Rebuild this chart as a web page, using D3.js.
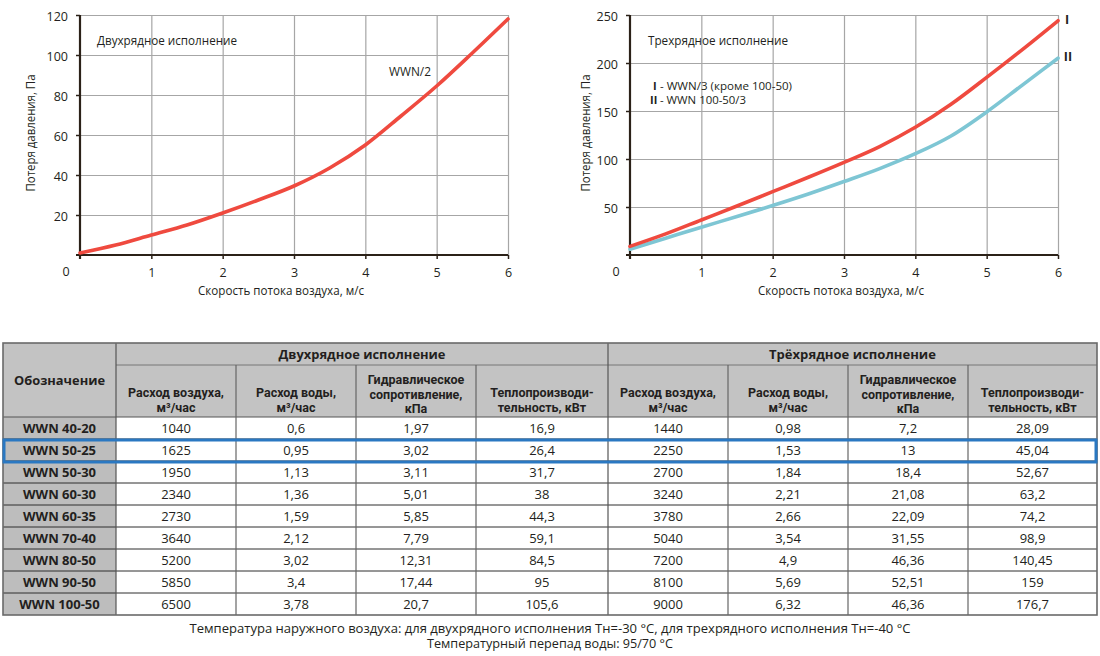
<!DOCTYPE html>
<html>
<head>
<meta charset="utf-8">
<script src="https://cdn.jsdelivr.net/npm/d3@7"></script>
<style>
  html, body { margin: 0; padding: 0; background: #fff; }
  svg { display: block; font-family: "Open Sans", "Noto Sans", sans-serif; }
</style>
</head>
<body>
<svg id="chart" width="1100" height="656"></svg>
<script>
// ---------- DATA ----------
const xTickValues = [1, 2, 3, 4, 5, 6];
const leftYTicks = [20, 40, 60, 80, 100, 120];
const rightYTicks = [50, 100, 150, 200, 250];

// Двухрядное исполнение, WWN/2
const wwn2Speed = [0, 0.5, 1, 1.5, 2, 2.5, 3, 3.5, 4, 4.5, 5, 5.5, 6];
const wwn2Loss  = [1, 5, 10, 15, 21, 27.5, 34.5, 43.5, 55, 69.5, 84.5, 101, 118];

// Трехрядное исполнение
const wwn3Speed = [0, 0.5, 1, 1.5, 2, 2.5, 3, 3.5, 4, 4.5, 5, 5.5, 6];
const wwn3LossI  = [9, 22, 36.5, 51, 66, 81, 96.5, 113, 133, 157, 185, 214, 244];
const wwn3LossII = [6, 17.5, 29, 40, 51.5, 63.5, 76.5, 90, 105.5, 124, 149, 177, 205];

// Table
const models = ["WWN 40-20","WWN 50-25","WWN 50-30","WWN 60-30","WWN 60-35","WWN 70-40","WWN 80-50","WWN 90-50","WWN 100-50"];
const air2   = ["1040","1625","1950","2340","2730","3640","5200","5850","6500"];
const water2 = ["0,6","0,95","1,13","1,36","1,59","2,12","3,02","3,4","3,78"];
const hyd2   = ["1,97","3,02","3,11","5,01","5,85","7,79","12,31","17,44","20,7"];
const heat2  = ["16,9","26,4","31,7","38","44,3","59,1","84,5","95","105,6"];
const air3   = ["1440","2250","2700","3240","3780","5040","7200","8100","9000"];
const water3 = ["0,98","1,53","1,84","2,21","2,66","3,54","4,9","5,69","6,32"];
const hyd3   = ["7,2","13","18,4","21,08","22,09","31,55","46,36","52,51","46,36"];
const heat3  = ["28,09","45,04","52,67","63,2","74,2","98,9","140,45","159","176,7"];
const highlightedModel = "WWN 50-25";

const colHeaders = [["Расход воздуха,","м³/час"],["Расход воды,","м³/час"],["Гидравлическое","сопротивление,","кПа"],["Теплопроизводи-","тельность, кВт"]];
const groupHeaders = ["Двухрядное исполнение","Трёхрядное исполнение"];
const footnotes = ["Температура наружного воздуха: для двухрядного исполнения Tн=-30 °C, для трехрядного исполнения Tн=-40 °C",
                   "Температурный перепад воды: 95/70 °C"];

// ---------- DRAW ----------
const svg = d3.select("#chart");
const RED = "#ef4a3f", BLUE = "#7ec6d4", GRID = "#a6a6a6", AXIS = "#2b2118", TXT = "#231f20";

function drawChart(opts) {
  const g = svg.append("g");
  const x = d3.scaleLinear().domain([0, 6]).range([opts.x0, opts.x1]);
  const y = d3.scaleLinear().domain([0, opts.ymax]).range([255, 15]);

  // vertical grid
  g.append("g").attr("transform", `translate(0,${y(0)})`)
    .call(d3.axisBottom(x).tickValues(xTickValues).tickSize(-(y(0) - y(opts.ymax))).tickFormat(""))
    .call(s => s.select(".domain").remove())
    .call(s => s.selectAll("line").attr("stroke", GRID).attr("stroke-width", 1.2));
  // horizontal grid
  g.append("g").attr("transform", `translate(${x(0)},0)`)
    .call(d3.axisLeft(y).tickValues(opts.yTicks).tickSize(-(x(6) - x(0))).tickFormat(""))
    .call(s => s.select(".domain").remove())
    .call(s => s.selectAll("line").attr("stroke", GRID).attr("stroke-width", 1.2));

  // y axis with labels
  g.append("g").attr("transform", `translate(${x(0)},0)`)
    .call(d3.axisLeft(y).tickValues(opts.yTicks).tickSize(4).tickPadding(8).tickFormat(d3.format("d")))
    .call(s => s.select(".domain").remove())
    .call(s => s.selectAll("line").attr("stroke", AXIS).attr("stroke-width", 1.5))
    .call(s => s.selectAll("text").attr("font-size", 12.5).attr("fill", TXT)
      .attr("font-family", "Open Sans, sans-serif").attr("dy", "0.45em"));
  // x axis with labels
  g.append("g").attr("transform", `translate(0,${y(0)})`)
    .call(d3.axisBottom(x).tickValues(xTickValues).tickSize(4).tickPadding(9).tickFormat(d3.format("d")))
    .call(s => s.select(".domain").remove())
    .call(s => s.selectAll("line").attr("stroke", AXIS).attr("stroke-width", 1.5))
    .call(s => s.selectAll("text").attr("font-size", 12.5).attr("fill", TXT)
      .attr("font-family", "Open Sans, sans-serif"));

  // axis lines
  g.append("line").attr("x1", x(0)).attr("x2", x(0)).attr("y1", y(opts.ymax)).attr("y2", y(0) + 4)
    .attr("stroke", AXIS).attr("stroke-width", 2.2);
  g.append("line").attr("x1", x(0) - 4).attr("x2", x(6)).attr("y1", y(0)).attr("y2", y(0))
    .attr("stroke", AXIS).attr("stroke-width", 2.2);

  // origin label
  g.append("text").attr("x", x(0) - 14).attr("y", 276).attr("text-anchor", "middle")
    .attr("font-size", 12.5).attr("fill", TXT).text("0");

  // titles
  g.append("text").attr("x", opts.xTitleX).attr("y", 294.5).attr("text-anchor", "middle")
    .attr("font-size", 12).attr("fill", TXT).attr("textLength", 166).attr("lengthAdjust", "spacingAndGlyphs")
    .text("Скорость потока воздуха, м/с");
  g.append("text").attr("transform", `translate(${opts.yTitleX},133) rotate(-90)`).attr("text-anchor", "middle")
    .attr("font-size", 12).attr("fill", TXT).attr("textLength", 117).attr("lengthAdjust", "spacingAndGlyphs")
    .text("Потеря давления, Па");

  // lines
  const line = d3.line().x(d => x(d[0])).y(d => y(d[1])).curve(d3.curveMonotoneX);
  opts.series.forEach(s => {
    g.append("path").datum(d3.zip(s.xs, s.ys)).attr("d", line)
      .attr("fill", "none").attr("stroke", s.color).attr("stroke-width", 3.6).attr("stroke-linecap", "round");
  });
  return { g, x, y };
}

// Left chart
const L = drawChart({
  x0: 80, x1: 508, ymax: 120, yTicks: leftYTicks, xTitleX: 281, yTitleX: 35,
  series: [{ xs: wwn2Speed, ys: wwn2Loss, color: RED }]
});
L.g.append("text").attr("x", 97).attr("y", 45).attr("font-size", 12).attr("fill", TXT)
  .attr("textLength", 140).attr("lengthAdjust", "spacingAndGlyphs").text("Двухрядное исполнение");
L.g.append("text").attr("x", 389).attr("y", 75.5).attr("font-size", 12).attr("fill", TXT)
  .attr("textLength", 42).attr("lengthAdjust", "spacingAndGlyphs").text("WWN/2");

// Right chart
const R = drawChart({
  x0: 630, x1: 1058, ymax: 250, yTicks: rightYTicks, xTitleX: 841, yTitleX: 590,
  series: [{ xs: wwn3Speed, ys: wwn3LossII, color: BLUE }, { xs: wwn3Speed, ys: wwn3LossI, color: RED }]
});
R.g.append("text").attr("x", 648).attr("y", 45).attr("font-size", 12).attr("fill", TXT)
  .attr("textLength", 140).attr("lengthAdjust", "spacingAndGlyphs").text("Трехрядное исполнение");
R.g.append("text").attr("x", 653).attr("y", 90).attr("font-size", 11).attr("font-weight", "bold")
  .attr("fill", TXT).text("I");
R.g.append("text").attr("x", 660).attr("y", 90).attr("font-size", 11).attr("fill", TXT)
  .attr("textLength", 132).attr("lengthAdjust", "spacingAndGlyphs").text("- WWN/3 (кроме 100-50)");
R.g.append("text").attr("x", 650).attr("y", 104).attr("font-size", 11).attr("font-weight", "bold")
  .attr("fill", TXT).text("II");
R.g.append("text").attr("x", 660).attr("y", 104).attr("font-size", 11).attr("fill", TXT)
  .attr("textLength", 86).attr("lengthAdjust", "spacingAndGlyphs").text("- WWN 100-50/3");
R.g.append("text").attr("x", R.x(6) + 9).attr("y", 24).attr("font-size", 12.5).attr("font-weight", "bold")
  .attr("text-anchor", "middle").attr("fill", TXT).text("I");
R.g.append("text").attr("x", R.x(6) + 10).attr("y", 61).attr("font-size", 12.5).attr("font-weight", "bold")
  .attr("text-anchor", "middle").attr("fill", TXT).text("II");

// ---------- TABLE ----------
const colEdges = [3, 116, 236, 356, 476, 608, 728, 848, 968, 1097];
const tTop = 343, tGroup = 365, tHead = 417, rowH = 22;
const rowScale = d3.scaleBand().domain(models).range([tHead, tHead + rowH * models.length]);
const tBottom = tHead + rowH * models.length;
const T = svg.append("g");
const HEADBG = "#c3c3c3", FIRSTBG = "#bdbdbd", LINE = "#2f2f2f";

T.append("rect").attr("x", colEdges[0]).attr("y", tTop).attr("width", colEdges[9] - colEdges[0])
  .attr("height", tHead - tTop).attr("fill", HEADBG);
T.append("rect").attr("x", colEdges[0]).attr("y", tHead).attr("width", colEdges[1] - colEdges[0])
  .attr("height", tBottom - tHead).attr("fill", FIRSTBG);

// grid lines
T.append("line").attr("x1", colEdges[1]).attr("x2", colEdges[9]).attr("y1", tGroup).attr("y2", tGroup)
  .attr("stroke", "#777").attr("stroke-width", 1);
models.forEach((m, i) => {
  T.append("line").attr("x1", colEdges[0]).attr("x2", colEdges[9])
    .attr("y1", rowScale(m)).attr("y2", rowScale(m)).attr("stroke", i === 0 ? "#555" : LINE).attr("stroke-width", 1);
});
colEdges.slice(1, 9).forEach((cx, i) => {
  const top = (i === 0 || i === 4) ? tTop : tGroup;
  T.append("line").attr("x1", cx).attr("x2", cx).attr("y1", top).attr("y2", tBottom)
    .attr("stroke", (i === 0 || i === 4) ? "#555" : "#666").attr("stroke-width", 1.2);
});
T.append("rect").attr("x", colEdges[0]).attr("y", tTop).attr("width", colEdges[9] - colEdges[0])
  .attr("height", tBottom - tTop).attr("fill", "none").attr("stroke", "#6a6a6a").attr("stroke-width", 1.6);

// header texts
T.append("text").attr("x", (colEdges[0] + colEdges[1]) / 2).attr("y", 385).attr("text-anchor", "middle")
  .attr("font-size", 13).attr("font-weight", "bold").attr("fill", TXT)
  .attr("textLength", 91).attr("lengthAdjust", "spacingAndGlyphs").text("Обозначение");
groupHeaders.forEach((h, gi) => {
  const a = colEdges[1 + gi * 4], b = colEdges[5 + gi * 4];
  T.append("text").attr("x", (a + b) / 2).attr("y", 359).attr("text-anchor", "middle")
    .attr("font-size", 13).attr("font-weight", "bold").attr("fill", TXT)
    .attr("textLength", 167).attr("lengthAdjust", "spacingAndGlyphs").text(h);
  colHeaders.forEach((lines, ci) => {
    const cx = (colEdges[1 + gi * 4 + ci] + colEdges[2 + gi * 4 + ci]) / 2;
    const three = lines.length === 3;
    const y0 = three ? 384 : 397;
    const step = three ? 14.7 : 14.8;
    lines.forEach((ln, li) => {
      T.append("text").attr("x", cx).attr("y", y0 + li * step).attr("text-anchor", "middle")
        .attr("font-family", "Roboto, sans-serif")
        .attr("font-size", 12.5).attr("font-weight", "bold").attr("fill", TXT).text(ln);
    });
  });
});

// body
const cols = [air2, water2, hyd2, heat2, air3, water3, hyd3, heat3];
models.forEach((m, i) => {
  const cy = rowScale(m) + rowH / 2 + 4.6;
  T.append("text").attr("x", (colEdges[0] + colEdges[1]) / 2).attr("y", cy).attr("text-anchor", "middle")
    .attr("font-size", 13).attr("font-weight", "bold").attr("fill", TXT).text(m);
  cols.forEach((c, ci) => {
    T.append("text").attr("x", (colEdges[1 + ci] + colEdges[2 + ci]) / 2).attr("y", cy)
      .attr("text-anchor", "middle").attr("font-size", 13).attr("fill", TXT).text(c[i]);
  });
});

// highlight
T.append("rect").attr("x", colEdges[0] + 1).attr("y", rowScale(highlightedModel) + 1)
  .attr("width", colEdges[9] - colEdges[0] - 2).attr("height", rowH).attr("fill", "none")
  .attr("stroke", "#2a78c2").attr("stroke-width", 3);

// footnotes
footnotes.forEach((f, i) => {
  svg.append("text").attr("x", 550).attr("y", 633 + i * 15).attr("text-anchor", "middle")
    .attr("font-size", 12.5).attr("fill", TXT)
    .attr("textLength", i === 0 ? 721 : 246).attr("lengthAdjust", "spacingAndGlyphs").text(f);
});
</script>
</body>
</html>
